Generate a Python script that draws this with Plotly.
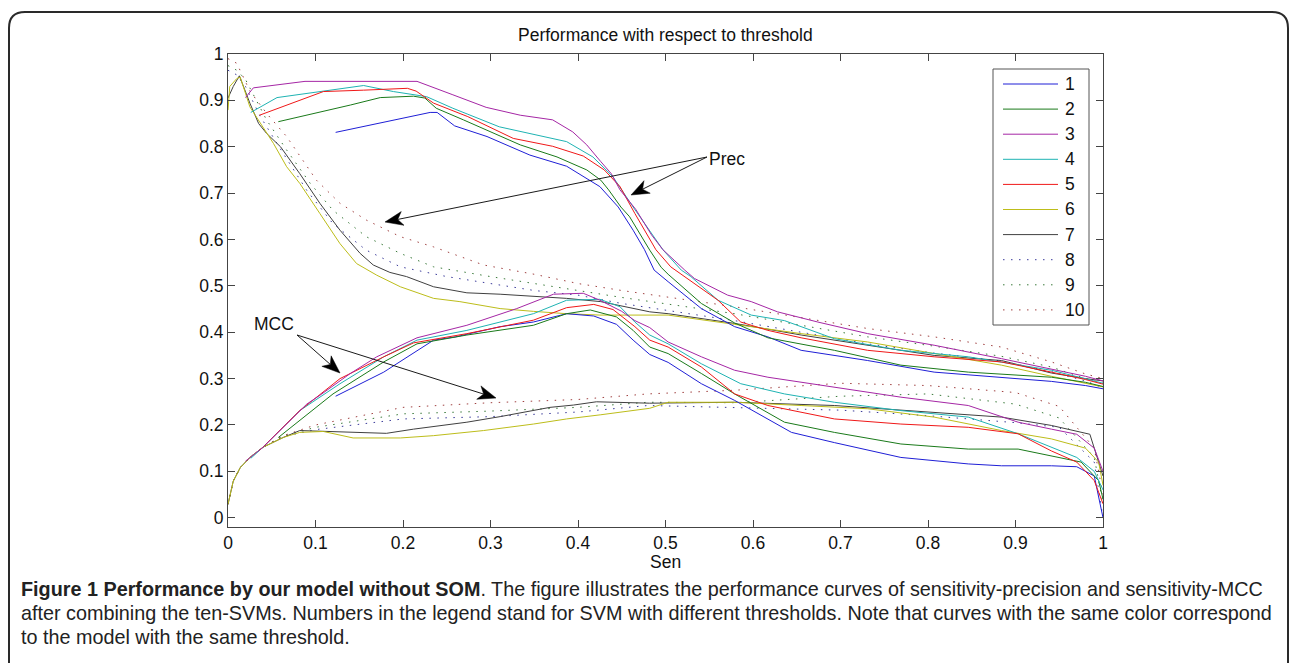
import plotly.graph_objects as go

# ---------------- data ----------------
SERIES_NAMES = ["1", "2", "3", "4", "5", "6", "7", "8", "9", "10"]
X_TICKS = [0, 0.1, 0.2, 0.3, 0.4, 0.5, 0.6, 0.7, 0.8, 0.9, 1]
X_TICK_TEXT = ["0", "0.1", "0.2", "0.3", "0.4", "0.5", "0.6", "0.7", "0.8", "0.9", "1"]
Y_TICKS = [0, 0.1, 0.2, 0.3, 0.4, 0.5, 0.6, 0.7, 0.8, 0.9, 1]
Y_TICK_TEXT = ["0", "0.1", "0.2", "0.3", "0.4", "0.5", "0.6", "0.7", "0.8", "0.9", "1"]

SEN_P1 = [0.123, 0.16, 0.2, 0.231, 0.239, 0.259, 0.296, 0.345, 0.387, 0.425, 0.446, 0.463, 0.476, 0.487, 0.503, 0.541, 0.579, 0.617, 0.655, 0.731, 0.807, 0.884, 0.941, 0.98, 1.0]
PREC_1 = [0.831, 0.846, 0.862, 0.874, 0.874, 0.845, 0.822, 0.782, 0.758, 0.714, 0.67, 0.62, 0.578, 0.534, 0.509, 0.451, 0.412, 0.39, 0.361, 0.339, 0.314, 0.303, 0.294, 0.285, 0.278]
SEN_M1 = [0.123, 0.178, 0.235, 0.26, 0.311, 0.349, 0.387, 0.418, 0.444, 0.463, 0.482, 0.503, 0.541, 0.579, 0.644, 0.693, 0.769, 0.846, 0.884, 0.941, 0.97, 0.99, 1.0]
MCC_1 = [0.262, 0.314, 0.383, 0.39, 0.412, 0.422, 0.44, 0.435, 0.417, 0.383, 0.352, 0.335, 0.289, 0.253, 0.184, 0.162, 0.13, 0.116, 0.112, 0.112, 0.11, 0.09, 0.0]

SEN_P2 = [0.0575, 0.1, 0.14, 0.174, 0.212, 0.225, 0.238, 0.269, 0.334, 0.376, 0.41, 0.426, 0.435, 0.449, 0.459, 0.482, 0.495, 0.503, 0.541, 0.579, 0.617, 0.693, 0.769, 0.846, 0.941, 0.98, 1.0]
PREC_2 = [0.854, 0.872, 0.89, 0.906, 0.909, 0.905, 0.883, 0.858, 0.804, 0.778, 0.75, 0.728, 0.707, 0.67, 0.649, 0.577, 0.54, 0.525, 0.462, 0.42, 0.388, 0.361, 0.329, 0.314, 0.303, 0.292, 0.283]
SEN_M2 = [0.0575, 0.12, 0.178, 0.216, 0.273, 0.349, 0.387, 0.414, 0.444, 0.463, 0.482, 0.503, 0.541, 0.579, 0.636, 0.693, 0.769, 0.846, 0.903, 0.941, 0.975, 0.995, 1.0]
MCC_2 = [0.173, 0.267, 0.336, 0.375, 0.394, 0.415, 0.44, 0.448, 0.433, 0.404, 0.368, 0.354, 0.311, 0.267, 0.206, 0.184, 0.159, 0.148, 0.148, 0.134, 0.12, 0.08, 0.04]

SEN_P3 = [0.02, 0.029, 0.088, 0.216, 0.257, 0.295, 0.334, 0.371, 0.394, 0.41, 0.426, 0.438, 0.448, 0.466, 0.484, 0.497, 0.522, 0.533, 0.571, 0.598, 0.628, 0.674, 0.731, 0.807, 0.884, 0.941, 0.98, 1.0]
PREC_3 = [0.906, 0.927, 0.941, 0.941, 0.912, 0.885, 0.868, 0.858, 0.832, 0.804, 0.768, 0.742, 0.707, 0.665, 0.61, 0.578, 0.534, 0.516, 0.48, 0.466, 0.444, 0.422, 0.397, 0.372, 0.343, 0.321, 0.305, 0.295]
SEN_M3 = [0.02, 0.04, 0.09, 0.105, 0.139, 0.17, 0.216, 0.273, 0.33, 0.372, 0.406, 0.425, 0.45, 0.465, 0.482, 0.503, 0.541, 0.579, 0.617, 0.693, 0.769, 0.846, 0.903, 0.941, 0.97, 0.99, 1.0]
MCC_3 = [0.122, 0.152, 0.245, 0.264, 0.31, 0.347, 0.388, 0.415, 0.451, 0.482, 0.484, 0.469, 0.445, 0.425, 0.41, 0.379, 0.347, 0.318, 0.303, 0.282, 0.26, 0.242, 0.206, 0.191, 0.18, 0.15, 0.1]

SEN_P4 = [0.026, 0.056, 0.155, 0.189, 0.227, 0.257, 0.31, 0.387, 0.417, 0.44, 0.463, 0.484, 0.497, 0.518, 0.529, 0.56, 0.598, 0.636, 0.693, 0.769, 0.846, 0.941, 0.98, 1.0]
PREC_4 = [0.874, 0.906, 0.932, 0.919, 0.908, 0.883, 0.843, 0.811, 0.778, 0.735, 0.67, 0.613, 0.578, 0.534, 0.52, 0.469, 0.437, 0.425, 0.386, 0.361, 0.347, 0.318, 0.3, 0.29]
SEN_M4 = [0.026, 0.04, 0.082, 0.128, 0.178, 0.216, 0.273, 0.349, 0.387, 0.425, 0.448, 0.465, 0.482, 0.503, 0.541, 0.586, 0.636, 0.693, 0.769, 0.846, 0.903, 0.941, 0.97, 0.99, 1.0]
MCC_4 = [0.128, 0.152, 0.231, 0.289, 0.347, 0.383, 0.404, 0.44, 0.469, 0.471, 0.455, 0.422, 0.394, 0.375, 0.332, 0.289, 0.267, 0.249, 0.231, 0.217, 0.181, 0.152, 0.13, 0.1, 0.06]

SEN_P5 = [0.036, 0.109, 0.155, 0.205, 0.215, 0.235, 0.274, 0.326, 0.371, 0.406, 0.43, 0.448, 0.465, 0.482, 0.489, 0.506, 0.522, 0.56, 0.586, 0.617, 0.655, 0.731, 0.807, 0.884, 0.941, 0.98, 1.0]
PREC_5 = [0.868, 0.919, 0.922, 0.926, 0.92, 0.894, 0.865, 0.818, 0.801, 0.78, 0.75, 0.714, 0.656, 0.599, 0.578, 0.541, 0.52, 0.469, 0.422, 0.404, 0.388, 0.361, 0.347, 0.336, 0.314, 0.298, 0.288]
SEN_M5 = [0.036, 0.082, 0.128, 0.178, 0.212, 0.273, 0.349, 0.387, 0.418, 0.44, 0.465, 0.482, 0.503, 0.541, 0.579, 0.617, 0.693, 0.769, 0.846, 0.903, 0.941, 0.97, 0.99, 1.0]
MCC_5 = [0.145, 0.231, 0.3, 0.347, 0.377, 0.397, 0.426, 0.453, 0.46, 0.449, 0.412, 0.383, 0.368, 0.325, 0.267, 0.242, 0.213, 0.202, 0.195, 0.181, 0.144, 0.12, 0.08, 0.03]

SEN_P6 = [0.0, 0.002, 0.01, 0.014, 0.025, 0.037, 0.052, 0.067, 0.082, 0.105, 0.128, 0.147, 0.17, 0.197, 0.235, 0.265, 0.311, 0.349, 0.387, 0.425, 0.503, 0.579, 0.655, 0.731, 0.807, 0.884, 0.941, 0.98, 1.0]
PREC_6 = [0.879, 0.93, 0.947, 0.95, 0.886, 0.85, 0.807, 0.757, 0.721, 0.656, 0.591, 0.548, 0.523, 0.498, 0.473, 0.466, 0.451, 0.445, 0.44, 0.437, 0.437, 0.417, 0.397, 0.379, 0.354, 0.329, 0.305, 0.29, 0.282]
SEN_M6 = [0.0, 0.006, 0.014, 0.025, 0.04, 0.063, 0.082, 0.109, 0.143, 0.197, 0.235, 0.292, 0.349, 0.387, 0.426, 0.482, 0.503, 0.579, 0.655, 0.731, 0.807, 0.884, 0.941, 0.98, 0.995, 1.0]
MCC_6 = [0.029, 0.079, 0.108, 0.13, 0.152, 0.173, 0.184, 0.186, 0.172, 0.172, 0.177, 0.188, 0.202, 0.213, 0.222, 0.236, 0.249, 0.249, 0.242, 0.235, 0.217, 0.188, 0.17, 0.15, 0.12, 0.07]

SEN_P7 = [0.0, 0.006, 0.013, 0.025, 0.035, 0.044, 0.06, 0.082, 0.105, 0.128, 0.151, 0.166, 0.185, 0.204, 0.235, 0.273, 0.311, 0.349, 0.387, 0.426, 0.482, 0.503, 0.579, 0.655, 0.731, 0.807, 0.884, 0.941, 0.98, 1.0]
PREC_7 = [0.905, 0.93, 0.953, 0.894, 0.85, 0.829, 0.8, 0.742, 0.678, 0.62, 0.57, 0.545, 0.529, 0.52, 0.498, 0.485, 0.482, 0.477, 0.473, 0.466, 0.444, 0.44, 0.419, 0.394, 0.372, 0.35, 0.339, 0.312, 0.3, 0.295]
SEN_M7 = [0.0, 0.006, 0.014, 0.025, 0.04, 0.063, 0.082, 0.113, 0.166, 0.181, 0.212, 0.273, 0.311, 0.368, 0.395, 0.421, 0.482, 0.579, 0.693, 0.807, 0.884, 0.941, 0.985, 1.0]
MCC_7 = [0.029, 0.079, 0.108, 0.13, 0.152, 0.173, 0.188, 0.186, 0.184, 0.182, 0.191, 0.206, 0.218, 0.238, 0.243, 0.25, 0.247, 0.249, 0.242, 0.227, 0.217, 0.199, 0.18, 0.09]

SEN_P8 = [0.0, 0.01, 0.02, 0.037, 0.063, 0.09, 0.12, 0.158, 0.197, 0.25, 0.3, 0.35, 0.4, 0.45, 0.579, 0.731, 0.807, 0.884, 0.941, 0.98, 1.0]
PREC_8 = [0.965, 0.955, 0.93, 0.865, 0.786, 0.706, 0.634, 0.577, 0.541, 0.52, 0.505, 0.49, 0.48, 0.462, 0.425, 0.375, 0.355, 0.338, 0.315, 0.295, 0.28]
SEN_P9 = [0.0, 0.01, 0.02, 0.044, 0.067, 0.094, 0.12, 0.158, 0.197, 0.235, 0.3, 0.35, 0.4, 0.45, 0.579, 0.731, 0.807, 0.884, 0.941, 0.98, 1.0]
PREC_9 = [0.975, 0.965, 0.945, 0.858, 0.793, 0.721, 0.663, 0.606, 0.57, 0.541, 0.52, 0.505, 0.49, 0.475, 0.44, 0.39, 0.37, 0.348, 0.325, 0.3, 0.29]
SEN_P10 = [0.0, 0.01, 0.025, 0.045, 0.067, 0.101, 0.128, 0.158, 0.197, 0.235, 0.292, 0.35, 0.4, 0.45, 0.579, 0.731, 0.807, 0.884, 0.941, 0.98, 1.0]
PREC_10 = [0.99, 0.98, 0.92, 0.87, 0.822, 0.728, 0.678, 0.642, 0.606, 0.584, 0.545, 0.525, 0.505, 0.49, 0.455, 0.408, 0.39, 0.368, 0.336, 0.31, 0.3]

SEN_M_DOT = [0.0, 0.006, 0.014, 0.025, 0.04, 0.063, 0.1, 0.2, 0.3, 0.4, 0.48, 0.58, 0.7, 0.8, 0.9, 0.95, 0.99, 1.0]
MCC_8 = [0.029, 0.079, 0.108, 0.13, 0.152, 0.175, 0.19, 0.213, 0.218, 0.228, 0.242, 0.238, 0.232, 0.22, 0.205, 0.195, 0.12, 0.0]
MCC_9 = [0.029, 0.079, 0.108, 0.13, 0.152, 0.176, 0.195, 0.224, 0.23, 0.238, 0.249, 0.248, 0.262, 0.267, 0.245, 0.215, 0.13, 0.03]
MCC_10 = [0.029, 0.079, 0.108, 0.13, 0.152, 0.177, 0.2, 0.238, 0.248, 0.255, 0.267, 0.275, 0.29, 0.285, 0.27, 0.24, 0.15, 0.05]

TITLE = "Performance with respect to threshold"
X_LABEL = "Sen"
CAPTION_BOLD = "Figure 1 Performance by our model without SOM"
CAPTION_1 = ". The figure illustrates the performance curves of sensitivity-precision and sensitivity-MCC"
CAPTION_2 = "after combining the ten-SVMs. Numbers in the legend stand for SVM with different thresholds. Note that curves with the same color correspond"
CAPTION_3 = "to the model with the same threshold."

# ---------------- styles ----------------
COLORS = ["#1f1fd6", "#1a7a1a", "#a526a5", "#1fb3b3", "#f01818",
          "#bdbd1a", "#404040", "#3a3a9a", "#3a7a3a", "#a04040"]
DASHES = ["solid"] * 7 + ["1.5px,6.5px"] * 3
FONT = "Liberation Sans, Arial, sans-serif"
CAP_FONT = "Liberation Sans, Arial, sans-serif"
FS = 17.5

W, H = 1292, 663
PL, PR, PT, PB = 228, 1103, 54, 527


def px2x(px):
    return (px - PL) / (PR - PL)


def py2y(py):
    return (PB - py) / (PB - PT)


prec_sets = [(SEN_P1, PREC_1), (SEN_P2, PREC_2), (SEN_P3, PREC_3), (SEN_P4, PREC_4),
             (SEN_P5, PREC_5), (SEN_P6, PREC_6), (SEN_P7, PREC_7), (SEN_P8, PREC_8),
             (SEN_P9, PREC_9), (SEN_P10, PREC_10)]
mcc_sets = [(SEN_M1, MCC_1), (SEN_M2, MCC_2), (SEN_M3, MCC_3), (SEN_M4, MCC_4),
            (SEN_M5, MCC_5), (SEN_M6, MCC_6), (SEN_M7, MCC_7), (SEN_M_DOT, MCC_8),
            (SEN_M_DOT, MCC_9), (SEN_M_DOT, MCC_10)]

fig = go.Figure()
order = [7, 8, 9, 6, 5, 0, 1, 3, 4, 2]
for i in order:
    for sx, sy in (prec_sets[i], mcc_sets[i]):
        fig.add_trace(go.Scatter(
            x=sx, y=sy, mode="lines", name=SERIES_NAMES[i], showlegend=False,
            hoverinfo="skip",
            line=dict(color=COLORS[i], width=1, dash=DASHES[i]),
        ))

shapes = []
annotations = []

# outer rounded frame
fl, fr, ft, fb, rad = 9, 1288, 12, 690, 16
path = (f"M{px2x(fl)},{py2y(fb)} L{px2x(fl)},{py2y(ft + rad)} "
        f"Q{px2x(fl)},{py2y(ft)} {px2x(fl + rad)},{py2y(ft)} "
        f"L{px2x(fr - rad)},{py2y(ft)} Q{px2x(fr)},{py2y(ft)} {px2x(fr)},{py2y(ft + rad)} "
        f"L{px2x(fr)},{py2y(fb)}")
shapes.append(dict(type="path", xref="paper", yref="paper", path=path,
                   line=dict(color="#2a2a2a", width=2)))

# legend box
lb_l, lb_t, lb_r, lb_b = 993, 69, 1089, 325
shapes.append(dict(type="rect", xref="paper", yref="paper",
                   x0=px2x(lb_l), x1=px2x(lb_r), y0=py2y(lb_b), y1=py2y(lb_t),
                   line=dict(color="#555555", width=1), fillcolor="white", layer="above"))
for k, name in enumerate(SERIES_NAMES):
    yy = 84 + k * 25.1
    shapes.append(dict(type="line", xref="paper", yref="paper",
                       x0=px2x(1003), x1=px2x(1058), y0=py2y(yy), y1=py2y(yy),
                       line=dict(color=COLORS[k], width=1, dash=DASHES[k]), layer="above"))
    annotations.append(dict(xref="paper", yref="paper", x=px2x(1063), y=py2y(yy),
                            xanchor="left", yanchor="middle", showarrow=False,
                            text=name, font=dict(family=FONT, size=FS, color="#111")))


# arrows (Matlab-style stealth heads)
def arrow(tail, tip, L=18.0, Wd=7.0):
    tx, ty = tail
    hx, hy = tip
    dx, dy = hx - tx, hy - ty
    n = (dx * dx + dy * dy) ** 0.5
    ux, uy = dx / n, dy / n
    nx, ny = -uy, ux
    bx, by = hx - L * ux, hy - L * uy
    mx, my = hx - 0.72 * L * ux, hy - 0.72 * L * uy
    p1 = (bx + Wd * nx, by + Wd * ny)
    p2 = (bx - Wd * nx, by - Wd * ny)
    shapes.append(dict(type="line", xref="paper", yref="paper",
                       x0=px2x(tx), y0=py2y(ty), x1=px2x(mx), y1=py2y(my),
                       line=dict(color="#1a1a1a", width=1)))
    shapes.append(dict(type="path", xref="paper", yref="paper",
                       path=(f"M{px2x(hx)},{py2y(hy)} L{px2x(p1[0])},{py2y(p1[1])} "
                             f"L{px2x(mx)},{py2y(my)} L{px2x(p2[0])},{py2y(p2[1])} Z"),
                       fillcolor="black", line=dict(color="black", width=0.5)))


PREC_TAIL = (707, 157)
for tip in [(385, 222), (631, 195)]:
    arrow(PREC_TAIL, tip)
MCC_TAIL = (297, 335)
for tip in [(340, 373), (496, 398)]:
    arrow(MCC_TAIL, tip)

annotations.append(dict(xref="paper", yref="paper", x=px2x(707), y=py2y(159),
                        xanchor="left", yanchor="middle", showarrow=False, text="Prec",
                        font=dict(family=FONT, size=FS, color="#111")))
annotations.append(dict(xref="paper", yref="paper", x=px2x(296), y=py2y(324),
                        xanchor="right", yanchor="middle", showarrow=False, text="MCC",
                        font=dict(family=FONT, size=FS, color="#111")))

# title and axis label
annotations.append(dict(xref="paper", yref="paper", x=0.5, y=py2y(35),
                        xanchor="center", yanchor="middle", showarrow=False, text=TITLE,
                        font=dict(family=FONT, size=FS, color="#111")))
annotations.append(dict(xref="paper", yref="paper", x=0.5, y=py2y(562),
                        xanchor="center", yanchor="middle", showarrow=False, text=X_LABEL,
                        font=dict(family=FONT, size=FS, color="#111")))

# caption
cap_font = dict(family=CAP_FONT, size=19.8, color="#222")
for txt, yy in ((f"<b>{CAPTION_BOLD}</b>{CAPTION_1}", 589),
                (CAPTION_2, 613),
                (CAPTION_3, 637)):
    annotations.append(dict(xref="paper", yref="paper", x=px2x(19), y=py2y(yy),
                            xanchor="left", yanchor="middle", showarrow=False,
                            text=txt, font=cap_font))

axis_common = dict(showgrid=False, zeroline=False, showline=True, linecolor="#444444",
                   linewidth=1, mirror="ticks", ticks="inside", ticklen=7,
                   tickcolor="#444444", tickwidth=1,
                   tickfont=dict(family=FONT, size=FS, color="#111"))

fig.update_layout(
    width=W, height=H, autosize=False,
    margin=dict(l=PL, r=W - PR, t=PT, b=H - PB, pad=0),
    paper_bgcolor="white", plot_bgcolor="white",
    showlegend=False,
    xaxis=dict(range=[0, 1], tickvals=X_TICKS, ticktext=X_TICK_TEXT, **axis_common),
    yaxis=dict(range=[-0.02, 1], tickvals=Y_TICKS, ticktext=Y_TICK_TEXT, **axis_common),
    shapes=shapes,
    annotations=annotations,
)

fig.write_html("out.html", config={"displayModeBar": False},
               post_script="document.body.style.margin='0';document.body.style.overflow='hidden';")
